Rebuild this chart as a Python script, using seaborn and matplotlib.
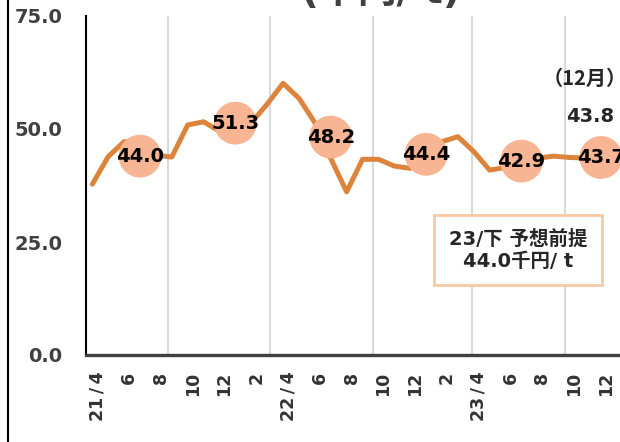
import pandas as pd
import matplotlib.pyplot as plt
from matplotlib.lines import Line2D
from matplotlib.transforms import ScaledTranslation
import seaborn as sns

# 月次データ 21/4 ～ 23/12 (千円/t)
months = ['21\u2009/\u20094', '', '6', '', '8', '', '10', '', '12', '', '2', '',
          '22\u2009/\u20094', '', '6', '', '8', '', '10', '', '12', '', '2', '',
          '23\u2009/\u20094', '', '6', '', '8', '', '10', '', '12']
prices = [37.8, 43.9, 47.2, 47.0, 44.2, 43.8, 50.9, 51.6, 49.5, 48.5, 51.4,
          55.5, 60.1, 56.8, 51.4, 43.5, 36.1, 43.3, 43.3, 41.8, 41.3, 44.5,
          47.2, 48.3, 45.0, 40.9, 41.5, 42.5, 43.5, 44.0, 43.7, 43.6, 43.8]

# 半期平均
half_pos = [3, 9, 15, 21, 27, 32]
half_avg = [44.0, 51.3, 48.2, 44.4, 42.9, 43.7]

dec_value = 43.8
forecast = 44.0
grid_pos = [4.78, 11.18, 17.66, 23.88, 29.73]

sns.set_style('white')
plt.rcParams['font.family'] = ['DejaVu Sans', 'Noto Sans CJK JP']

df = pd.DataFrame({'idx': range(len(prices)), 'price': prices})

fig = plt.figure(figsize=(6.2, 4.42), dpi=100)
ax = fig.add_axes([86 / 620, 87 / 442, (620 - 86) / 620, (355 - 16) / 442])

for g in grid_pos:
    ax.axvline(g, color='#D9D9D9', lw=1.5, zorder=1)

sns.lineplot(data=df, x='idx', y='price', color='#DC843C', lw=3.6,
             ax=ax, zorder=2)
sns.scatterplot(x=half_pos, y=half_avg, s=950, color='#F8B593',
                edgecolor='none', ax=ax, zorder=3, clip_on=False)
for x, v in zip(half_pos, half_avg):
    ax.text(x, v, f'{v:.1f}', ha='center', va='center', fontsize=14,
            fontweight='bold', color='black', zorder=4, clip_on=False)

ax.text(30.95, 61.3, '（12月）', ha='center', va='center', fontsize=14.5,
        fontweight='bold', family=['Noto Sans CJK JP'])
ax.text(31.3, 52.7, f'{dec_value:.1f}', ha='center', va='center',
        fontsize=14, fontweight='bold')

ax.text(26.8, 23.2, f'23/下 予想前提\n{forecast:.1f}千円/ t', ha='center',
        va='center', fontsize=14, fontweight='bold', linespacing=1.2,
        bbox=dict(boxstyle='square,pad=0.75', facecolor='white',
                  edgecolor='#F9C9A3', lw=2))

ax.set_xlim(-0.4, 33.2)
ax.set_ylim(0, 75)
ax.set_xticks(range(len(months)))
ax.set_xticklabels(months, rotation=90, fontsize=12.5, fontweight='bold',
                   color='#333333')
ax.set_yticks([0, 25, 50, 75])
ax.set_yticklabels(['0.0', '25.0', '50.0', '75.0'], fontsize=14,
                   fontweight='bold', color='#404040')
ax.set_xlabel('')
ax.set_ylabel('')

ax.tick_params(axis='x', direction='in', length=4, width=1.5,
               color='#404040', pad=12)
ax.tick_params(axis='y', direction='in', length=5, width=1.5,
               color='black', pad=17)
shift = ScaledTranslation(5 / 100, 0, fig.dpi_scale_trans)
for lab in ax.get_xticklabels():
    lab.set_transform(lab.get_transform() + shift)
for s in ['top', 'right']:
    ax.spines[s].set_visible(False)
ax.spines['left'].set_color('black')
ax.spines['left'].set_linewidth(1.5)
ax.spines['bottom'].set_color('#404040')
ax.spines['bottom'].set_linewidth(2.4)

fig.text(0.615, 1 - 3 / 442, '(千円/ t)', ha='center', va='baseline',
         fontsize=28, fontweight='bold', color='#404040')
fig.add_artist(Line2D([8 / 620, 8 / 620], [0, 1], color='black', lw=1.5,
                      transform=fig.transFigure))

plt.savefig('out.png', dpi=100)
